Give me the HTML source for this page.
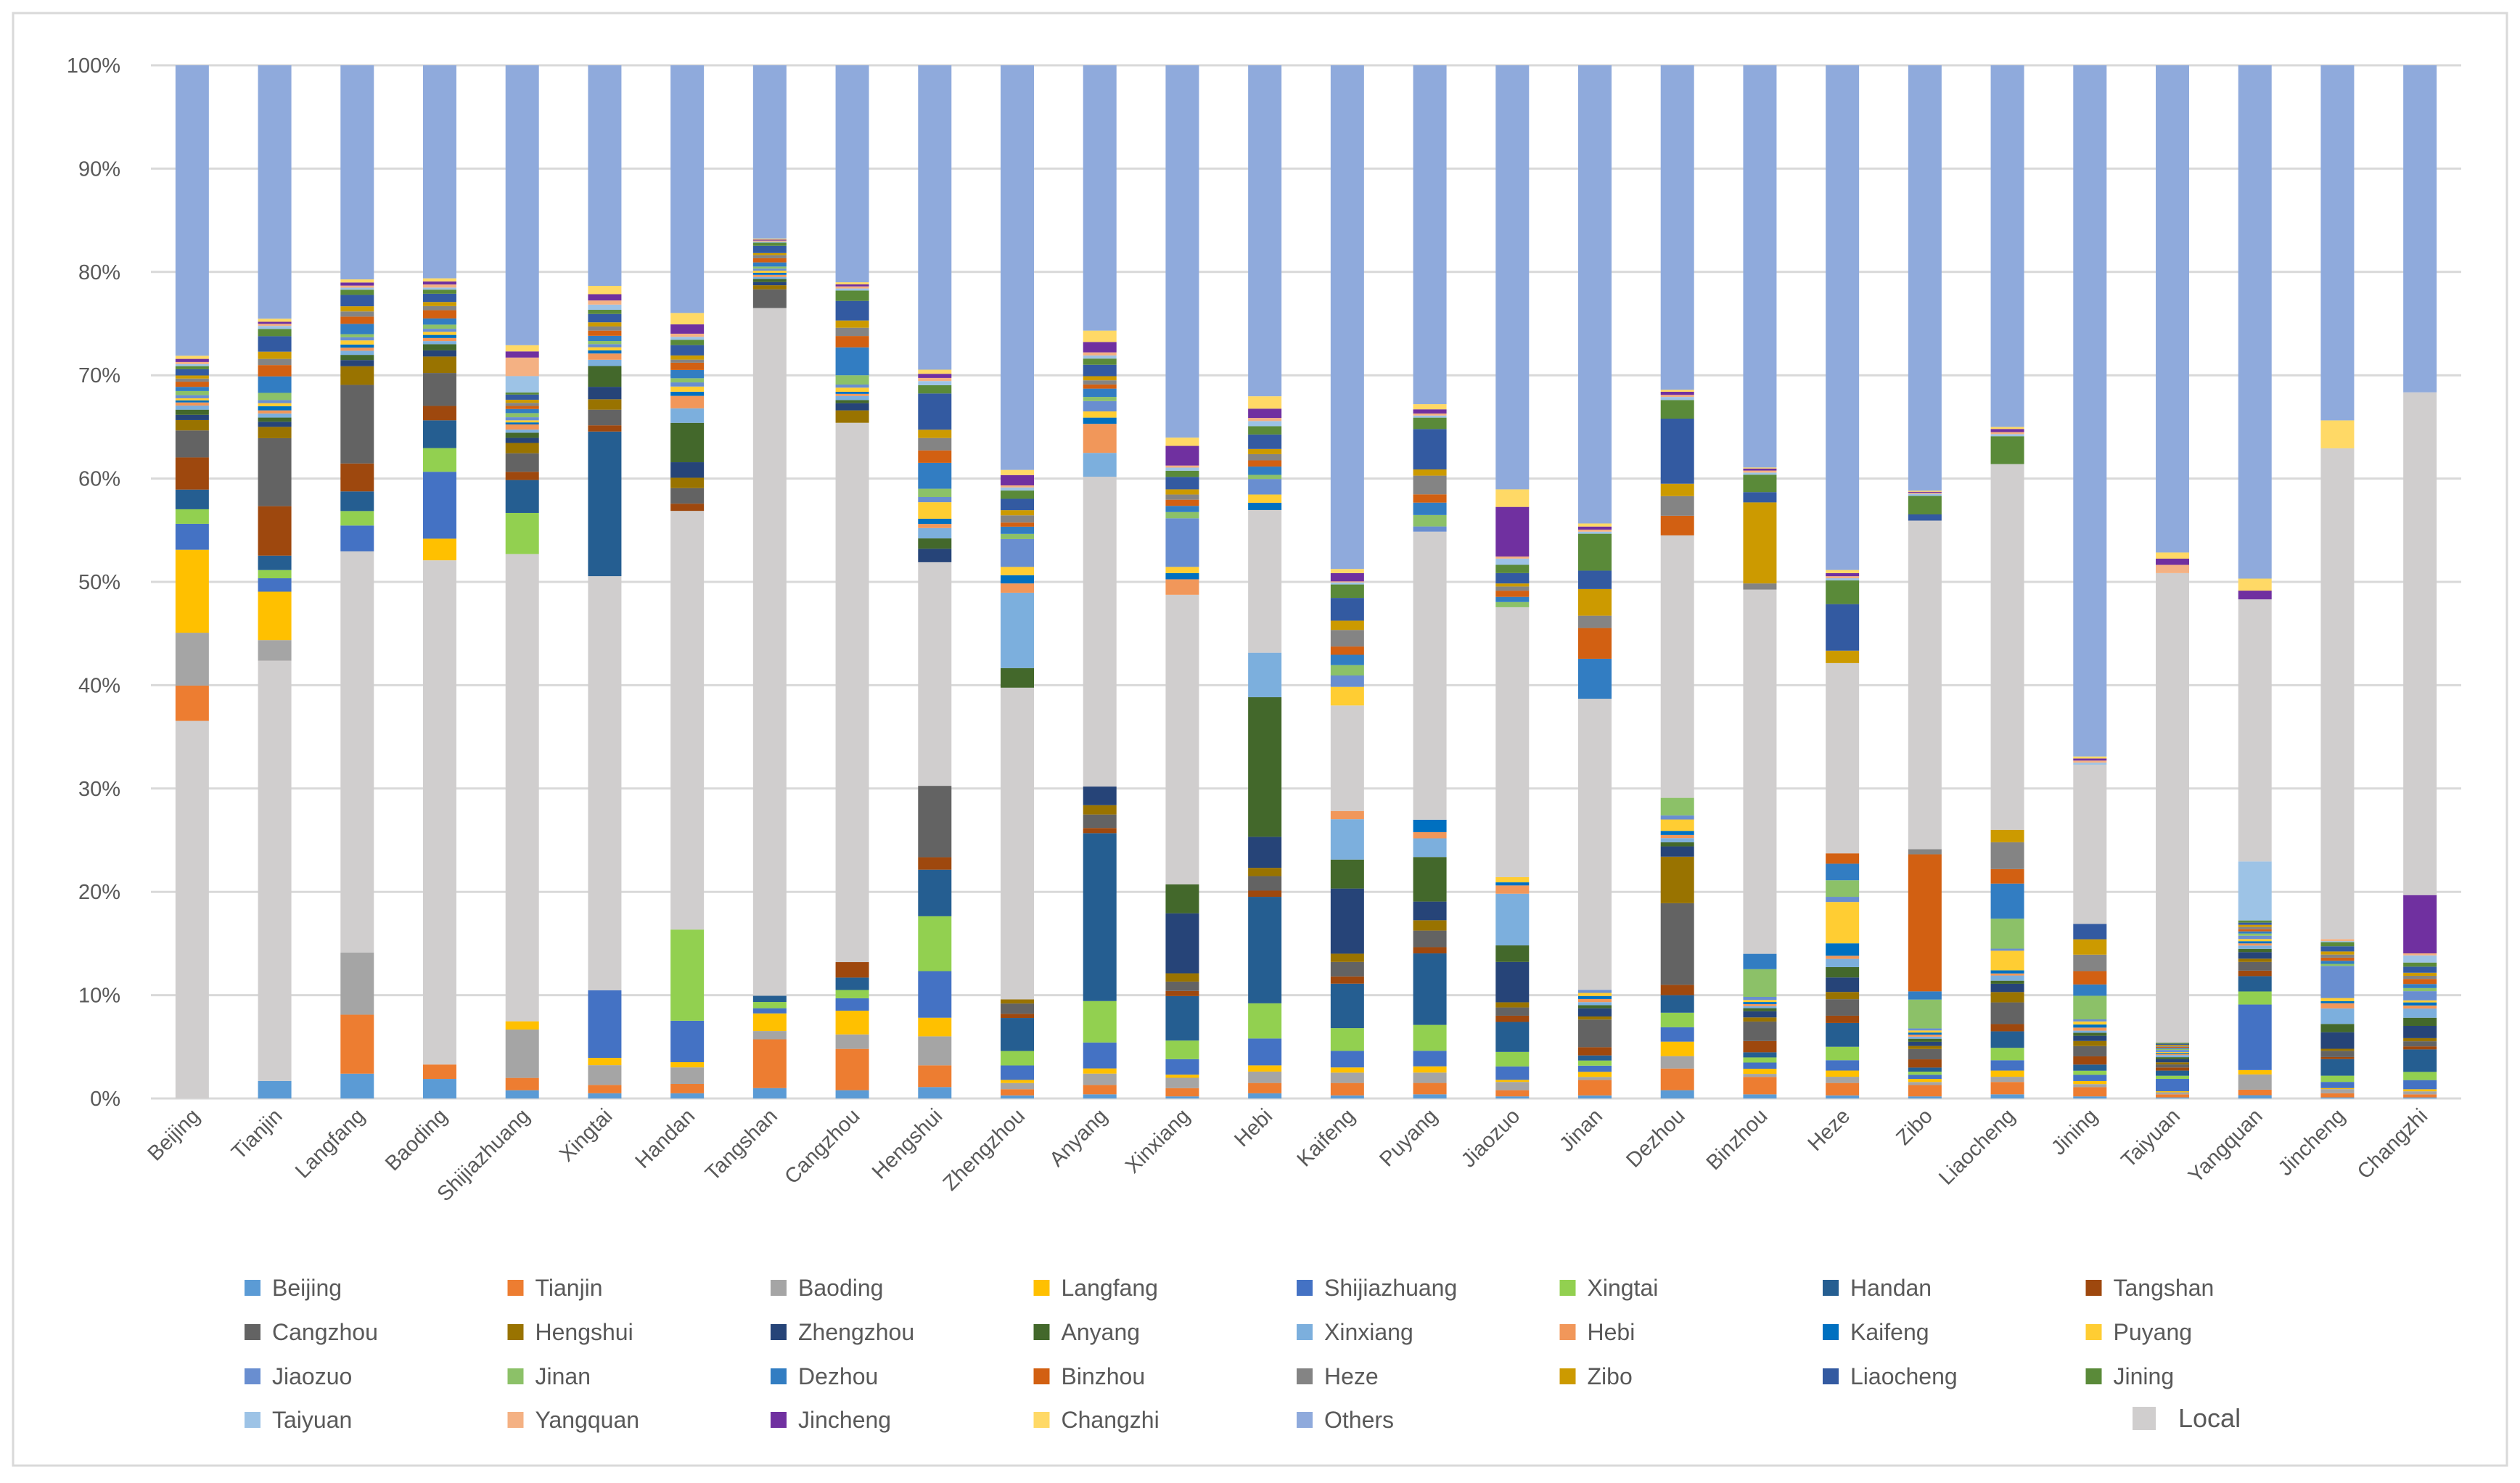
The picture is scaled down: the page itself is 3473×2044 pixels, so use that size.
<!DOCTYPE html>
<html><head><meta charset="utf-8">
<style>
html,body{margin:0;padding:0;background:#fff;}
svg{display:block;font-family:"Liberation Sans",Arial,sans-serif;}
</style></head>
<body>
<svg id="chart" width="3473" height="2044" viewBox="0 0 3473 2044" xmlns="http://www.w3.org/2000/svg">
<rect x="18" y="18" width="3437" height="2002" fill="#fff" stroke="#D9D9D9" stroke-width="3"/>
<g id="grid"></g>
<g id="ylabels"></g>
<g id="bars"></g>
<g id="xlabels"></g>
<g id="legend"></g>
</svg>
<script>
const cities = ["Beijing","Tianjin","Langfang","Baoding","Shijiazhuang","Xingtai","Handan","Tangshan","Cangzhou","Hengshui","Zhengzhou","Anyang","Xinxiang","Hebi","Kaifeng","Puyang","Jiaozuo","Jinan","Dezhou","Binzhou","Heze","Zibo","Liaocheng","Jining","Taiyuan","Yangquan","Jincheng","Changzhi"];
const seriesNames = ["Beijing","Tianjin","Baoding","Langfang","Shijiazhuang","Xingtai","Handan","Tangshan","Cangzhou","Hengshui","Zhengzhou","Anyang","Xinxiang","Hebi","Kaifeng","Puyang","Jiaozuo","Jinan","Dezhou","Binzhou","Heze","Zibo","Liaocheng","Jining","Taiyuan","Yangquan","Jincheng","Changzhi","Others"];
const yTicks = ["0%","10%","20%","30%","40%","50%","60%","70%","80%","90%","100%"];

const vBeijing = [36.4,3.4,5.1,8.0,2.5,1.4,1.9,3.1,2.6,1.0,0.5,0.5,0.4,0.3,0.2,0.2,0.3,0.4,0.4,0.5,0.3,0.3,0.6,0.3,0.2,0.2,0.3,0.3,28.0];
const vTianjin = [1.7,40.8,2.0,4.7,1.3,0.8,1.4,4.8,6.6,1.1,0.5,0.4,0.4,0.3,0.4,0.3,0.3,0.7,1.6,1.1,0.6,0.7,1.5,0.7,0.3,0.2,0.2,0.3,24.6];
const vLangfang = [2.4,5.7,6.0,38.8,2.5,1.4,1.9,2.7,7.6,1.8,0.6,0.5,0.4,0.3,0.3,0.4,0.3,0.3,1.0,0.7,0.5,0.5,1.1,0.5,0.2,0.2,0.3,0.3,20.7];
const vBaoding = [1.9,1.4,49.0,2.1,6.5,2.3,2.7,1.4,3.2,1.6,0.6,0.6,0.3,0.3,0.3,0.3,0.3,0.4,0.6,0.8,0.4,0.4,0.8,0.4,0.2,0.3,0.3,0.3,20.7];
const vShijiazhuang = [0.8,1.2,4.7,0.8,45.4,4.0,3.2,0.8,1.8,1.0,0.5,0.5,0.3,0.5,0.2,0.2,0.3,0.4,0.4,0.3,0.3,0.3,0.5,0.2,1.6,1.8,0.6,0.6,27.2];
const vXingtai = [0.5,0.8,1.9,0.7,6.5,39.8,13.9,0.6,1.5,1.0,1.2,2.0,0.6,0.6,0.3,0.3,0.3,0.3,0.5,0.5,0.4,0.4,0.8,0.4,0.5,0.4,0.6,0.8,21.2];
const vHandan = [0.5,0.9,1.6,0.5,4.0,8.8,40.4,0.7,1.5,1.0,1.5,3.8,1.4,1.2,0.4,0.5,0.4,0.4,0.8,0.7,0.3,0.4,1.0,0.5,0.3,0.3,0.9,1.1,23.9];
const vTangshan = [1.0,4.7,0.8,1.7,0.5,0.6,0.6,66.3,1.8,0.4,0.3,0.3,0.2,0.2,0.2,0.2,0.2,0.2,0.4,0.4,0.3,0.2,0.7,0.3,0.1,0.1,0.1,0.1,16.7];
const vCangzhou = [0.8,4.0,1.4,2.3,1.2,0.8,1.2,1.5,52.2,1.2,0.7,0.3,0.4,0.2,0.2,0.4,0.3,0.9,2.7,1.1,0.8,0.7,1.9,1.0,0.2,0.2,0.2,0.2,21.0];
const vHengshui = [1.1,2.1,2.8,1.8,4.5,5.3,4.5,1.2,6.9,21.6,1.3,1.0,1.0,0.4,0.5,1.6,0.5,0.8,2.5,1.2,1.2,0.8,3.5,0.8,0.4,0.3,0.4,0.4,29.4];
const vZhengzhou = [0.3,0.6,0.6,0.3,1.4,1.4,3.2,0.4,1.0,0.4,30.2,1.9,7.3,0.9,0.8,0.8,2.7,0.5,0.7,0.4,0.7,0.5,1.1,0.8,0.3,0.2,1.0,0.5,39.2];
const vAnyang = [0.4,0.9,1.1,0.5,2.5,4.0,16.2,0.5,1.3,0.9,1.8,29.9,2.3,2.8,0.6,0.6,1.0,0.4,0.8,0.4,0.4,0.4,1.1,0.6,0.3,0.3,1.0,1.1,25.6];
const vXinxiang = [0.2,0.8,1.0,0.3,1.5,1.8,4.3,0.5,0.9,0.8,5.8,2.8,28.0,1.5,0.6,0.6,4.7,0.6,0.6,0.6,0.5,0.5,1.2,0.6,0.3,0.2,1.9,0.8,36.0];
const vHebi = [0.5,1.0,1.1,0.6,2.6,3.4,10.3,0.6,1.4,0.8,3.0,13.5,4.3,13.8,0.7,0.8,1.5,0.4,0.8,0.6,0.6,0.5,1.4,0.8,0.5,0.3,0.9,1.2,32.0];
const vKaifeng = [0.3,1.2,1.0,0.5,1.6,2.2,4.3,0.7,1.4,0.8,6.3,2.8,3.9,0.8,10.2,1.8,1.1,1.0,1.0,0.8,1.6,0.9,2.2,1.3,0.2,0.1,0.8,0.4,48.7];
const vPuyang = [0.4,1.1,1.0,0.6,1.5,2.5,6.9,0.6,1.6,1.0,1.8,4.3,1.8,0.6,1.2,27.8,0.5,1.1,1.2,0.8,1.8,0.6,3.9,1.1,0.2,0.2,0.4,0.5,32.7];
const vJiaozuo = [0.2,0.6,0.8,0.2,1.3,1.4,2.9,0.6,0.8,0.5,3.9,1.6,5.0,0.8,0.3,0.5,26.1,0.5,0.5,0.6,0.4,0.3,1.0,0.8,0.6,0.2,4.8,1.7,41.0];
const vJinan = [0.3,1.5,0.3,0.5,0.6,0.5,0.5,0.8,2.7,0.3,0.8,0.3,0.3,0.3,0.3,0.3,0.3,28.4,3.9,3.0,1.2,2.6,1.8,3.6,0.2,0.2,0.3,0.3,44.7];
const vDezhou = [0.8,2.1,1.2,1.4,1.4,1.4,1.7,1.0,7.9,4.5,1.0,0.4,0.4,0.3,0.4,1.1,0.4,1.7,25.4,1.9,1.9,1.2,6.3,1.8,0.3,0.2,0.3,0.2,31.4];
const vBinzhou = [0.4,1.7,0.3,0.5,0.6,0.5,0.5,1.1,1.9,0.4,0.6,0.3,0.2,0.2,0.2,0.2,0.3,2.7,1.5,35.5,0.6,7.9,1.0,1.7,0.2,0.2,0.2,0.1,39.2];
const vHeze = [0.3,1.2,0.6,0.6,1.0,1.3,2.3,0.7,1.6,0.7,1.4,1.0,0.8,0.3,1.2,4.0,0.5,1.6,1.6,1.0,18.4,1.2,4.5,2.3,0.2,0.2,0.3,0.3,48.8];
const vZibo = [0.2,1.1,0.3,0.3,0.4,0.3,0.4,0.8,1.0,0.3,0.4,0.3,0.2,0.2,0.2,0.2,0.2,2.8,0.8,13.3,0.5,31.9,0.6,1.8,0.2,0.1,0.1,0.1,41.3];
const vLiaocheng = [0.4,1.2,0.5,0.6,1.0,1.2,1.6,0.7,2.1,1.0,0.8,0.3,0.5,0.2,0.3,1.9,0.2,2.9,3.4,1.4,2.6,1.2,35.4,2.7,0.2,0.2,0.3,0.2,35.0];
const vJining = [0.2,0.9,0.3,0.3,0.6,0.4,0.6,0.8,1.0,0.5,0.5,0.3,0.2,0.3,0.3,0.3,0.2,2.3,1.1,1.3,1.6,1.5,1.5,15.5,0.2,0.2,0.2,0.2,67.3];
const vTaiyuan = [0.1,0.3,0.2,0.1,1.2,0.3,0.5,0.3,0.3,0.2,0.3,0.2,0.2,0.1,0.1,0.1,0.2,0.1,0.1,0.1,0.1,0.1,0.1,0.1,45.5,0.8,0.6,0.6,47.2];
const vYangquan = [0.3,0.5,1.4,0.4,6.0,1.2,1.4,0.5,0.8,0.3,0.6,0.3,0.3,0.2,0.2,0.2,0.3,0.2,0.2,0.2,0.2,0.2,0.2,0.2,5.4,24.0,0.8,1.1,47.0];
const vJincheng = [0.1,0.4,0.4,0.1,0.6,0.6,1.6,0.2,0.6,0.2,1.6,0.8,1.5,0.5,0.2,0.3,3.1,0.2,0.3,0.3,0.3,0.3,0.5,0.4,0.1,0.2,47.4,2.7,34.3];
const vChangzhi = [0.1,0.3,0.3,0.2,0.9,0.8,2.2,0.3,0.5,0.3,1.2,0.8,0.9,0.3,0.3,0.2,0.9,0.3,0.4,0.5,0.3,0.3,0.6,0.4,0.7,0.2,5.7,49.2,32.0];

const cityValues = [vBeijing,vTianjin,vLangfang,vBaoding,vShijiazhuang,vXingtai,vHandan,vTangshan,vCangzhou,vHengshui,vZhengzhou,vAnyang,vXinxiang,vHebi,vKaifeng,vPuyang,vJiaozuo,vJinan,vDezhou,vBinzhou,vHeze,vZibo,vLiaocheng,vJining,vTaiyuan,vYangquan,vJincheng,vChangzhi];

const colors = ["#5B9BD5","#ED7D31","#A5A5A5","#FFC000","#4472C4","#92D050","#255E91","#9E480E","#636363","#997300","#264478","#43682B","#7CAFDD","#F1975A","#0070C0","#FFCD33","#698ED0","#8CC168","#327DC2","#D26012","#848484","#CC9A00","#335AA1","#5A8A39","#9DC3E6","#F4B183","#7030A0","#FFD966","#8FAADC"];
const localColor = "#D0CECE";

const NS = "http://www.w3.org/2000/svg";
const plotL = 208, plotR = 3392, yTop = 90, yBot = 1514;
const band = (plotR - plotL) / cities.length;
const barW = 46;
function yScale(p){ return yBot - (yBot - yTop) * p / 100; }
function xCenter(i){ return plotL + band * (i + 0.5); }
function mk(tag, attrs, parent){ const e = document.createElementNS(NS, tag); for (const k in attrs) e.setAttribute(k, attrs[k]); parent.appendChild(e); return e; }

const grid = document.getElementById('grid');
const ylab = document.getElementById('ylabels');
yTicks.forEach((t, i) => {
  const y = yScale(i * 10);
  const ln = mk('line', {x1: plotL, x2: plotR, y1: y, y2: y, stroke: '#D9D9D9', 'stroke-width': 3}, grid);
  
  
  const tx = mk('text', {x: 166, y: y + 10, 'text-anchor': 'end', 'font-size': 29, fill: '#595959'}, ylab);
  tx.textContent = t;
  
  
});

const bars = document.getElementById('bars');
const xlab = document.getElementById('xlabels');
cities.forEach((city, i) => {
  const vals = cityValues[i];
  const total = vals.reduce((a, b) => a + b, 0);
  const localIdx = seriesNames.indexOf(city);
  let cum = 0;
  const g = mk('g', {}, bars);
  
  
  const xc = xCenter(i);
  vals.forEach((v, s) => {
    const p0 = cum / total * 100, p1 = (cum + v) / total * 100;
    cum += v;
    const y0 = yScale(p0), y1 = yScale(p1);
    const r = mk('rect', {x: xc - barW / 2, y: y1, width: barW, height: Math.max(0, y0 - y1), fill: s === localIdx ? localColor : colors[s]}, g);
    
    
  });
  const t = mk('text', {x: 0, y: 0, 'text-anchor': 'end', 'font-size': 29, fill: '#595959', transform: 'translate(' + (xc + 12) + ',1540) rotate(-45)'}, xlab);
  t.textContent = city;
  
  
});

const legend = document.getElementById('legend');
const legRows = [1775, 1836, 1897, 1957];
const colX0 = 337, colStep = 362.5;
seriesNames.forEach((name, s) => {
  const row = Math.floor(s / 8), col = s % 8;
  const x = colX0 + col * colStep, y = legRows[row];
  const g = mk('g', {}, legend);
  
  
  mk('rect', {x: x, y: y - 11, width: 22, height: 22, fill: colors[s]}, g);
  const t = mk('text', {x: x + 38, y: y + 11, 'font-size': 32, fill: '#595959'}, g);
  t.textContent = name;
});
{
  const g = mk('g', {}, legend);
  
  
  mk('rect', {x: 2939, y: 1939, width: 32, height: 32, fill: localColor}, g);
  const t = mk('text', {x: 3002, y: 1967, 'font-size': 36, fill: '#595959'}, g);
  t.textContent = 'Local';
}
</script>
</body></html>
